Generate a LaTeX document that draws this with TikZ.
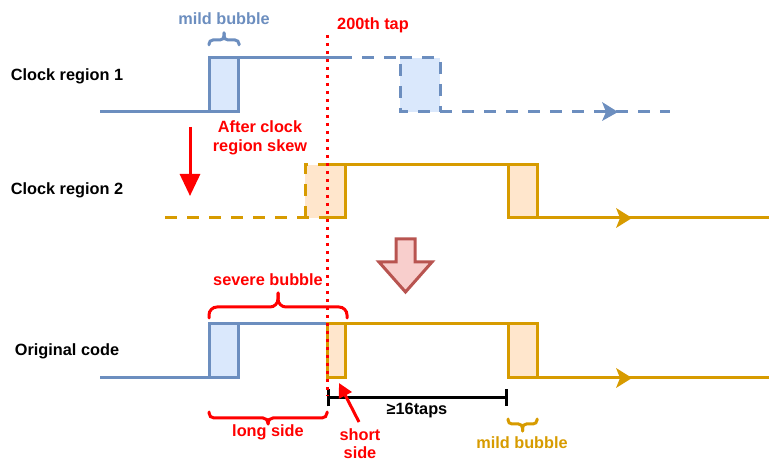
\documentclass[tikz,border=0pt]{standalone}
\usepackage{fontspec}
\setmainfont{Liberation Sans}
\usetikzlibrary{arrows.meta}
\definecolor{bblue}{HTML}{6C8EBF}
\definecolor{lblue}{HTML}{DAE8FC}
\definecolor{borange}{HTML}{D79B00}
\definecolor{lorange}{HTML}{FFE6CC}
\definecolor{pinkf}{HTML}{F8CECC}
\definecolor{pinkd}{HTML}{B85450}
\definecolor{myred}{HTML}{FF0000}
\tikzset{
  lbl/.style={font=\fontsize{16.3}{19}\selectfont\bfseries, inner sep=0pt, align=center},
  wave/.style={line width=3pt, line join=miter},
  dashwave/.style={wave, dash pattern=on 12pt off 10pt},
  brc/.style={line width=3pt, line cap=round},
}
% curly brace: x1, x2, y of ends, y of flat part, y of tip, radius
\newcommand\crbrace[7]{%
  \draw[brc, #7, rounded corners=#6pt] (#1,#3) -- (#1,#4) -- ({(#1+#2)/2},#4) -- ({(#1+#2)/2},#5);
  \draw[brc, #7, rounded corners=#6pt] (#2,#3) -- (#2,#4) -- ({(#1+#2)/2},#4) -- ({(#1+#2)/2},#5);
}
\begin{document}
\begin{tikzpicture}[x=1pt,y=-1pt]
\useasboundingbox (0,0) rectangle (769,462);

% labels
\node[lbl] (cr1) at (67,76) {Clock region 1};
\node[lbl] (cr2) at (67,190) {Clock region 2};
\node[lbl] (orig) at (67,351) {Original code};
\node[lbl, text=bblue] (mild1) at (224,19) {mild bubble};
\node[lbl, text=myred] (tap) at (373,25) {200th tap};
\node[lbl, text=myred] (skew) at (260,138) {After clock\\region skew};
\node[lbl, text=myred] (severe) at (268,280) {severe bubble};
\node[lbl, text=myred] (long) at (268,432) {long side};
\node[lbl, text=myred, font=\fontsize{16.3}{18}\selectfont\bfseries] (short) at (360,444) {short\\side};
\node[lbl] (taps) at (417,411) {≥16taps};
\node[lbl, text=borange] (mild2) at (522,443) {mild bubble};

% ---- Clock region 1 (blue)
\fill[lblue] (209,58) rectangle (238,112);
\fill[lblue] (400,58) rectangle (440,112);
\draw[wave, bblue] (100,112) -- (209,112) -- (209,58) -- (340,58);
\draw[wave, bblue] (238,58) -- (238,112) -- (209,112);
\draw[dashwave, bblue] (340,58) -- (400,58) -- (400,112) -- (670,112);
\draw[dashwave, bblue] (400,58) -- (440,58) -- (440,112);
\fill[bblue] (618,112) -- (602,102) -- (606,112) -- (602,121) -- cycle;
\crbrace{209}{239}{45}{40}{33}{4}{bblue}

% ---- Clock region 2 (orange)
\fill[lorange] (305,165) rectangle (345,218);
\fill[lorange] (508,165) rectangle (537,218);
\draw[dashwave, borange] (165,218) -- (327,218);
\draw[dashwave, borange] (305,218) -- (305,165) -- (327,165);
\draw[wave, borange] (327,218) -- (345,218) -- (345,165);
\draw[wave, borange] (327,165) -- (537,165) -- (537,218);
\draw[wave, borange] (508,165) -- (508,218) -- (769,218);
\fill[borange] (632,218) -- (616,208) -- (620,218) -- (616,228) -- cycle;

% ---- skew arrow
\coordinate (skA) at (190,127);
\coordinate (skB) at (190,196);
\draw[line width=3pt, myred, -{Triangle[length=22pt,width=20pt]}] (skA) -- (skB);

% ---- big pink arrow
\draw[line width=3pt, pinkd, fill=pinkf, line join=miter]
  (396,239) -- (415,239) -- (415,262) -- (432,262) -- (405.5,292) -- (379,262) -- (396,262) -- cycle;

% ---- Original code
\fill[lblue] (209,324) rectangle (238,378);
\fill[lorange] (327,324) rectangle (345,378);
\fill[lorange] (508,324) rectangle (537,378);
\draw[wave, bblue] (100,378) -- (209,378) -- (209,324) -- (327,324);
\draw[wave, bblue] (238,324) -- (238,378) -- (209,378);
\draw[wave, borange] (327,324) rectangle (345,378);
\draw[wave, borange] (345,324) -- (537,324) -- (537,378);
\draw[wave, borange] (508,324) -- (508,378) -- (769,378);
\fill[borange] (632,378) -- (616,368) -- (620,378) -- (616,388) -- cycle;

\crbrace{209}{347}{318}{307}{293}{8}{myred}
\crbrace{209}{327}{412}{418}{424}{5}{myred}
\crbrace{508}{537}{419}{424}{431}{4}{borange}

% ---- ≥16taps measure
\coordinate (mA) at (327,398);
\coordinate (mB) at (508,398);
\draw[line width=3pt, {Bar[width=17pt]}-{Bar[width=17pt]}] (mA) -- (mB);

% ---- short side arrow
\coordinate (shT) at (339,383);
\coordinate (shS) at (359,422);
\draw[line width=3pt, myred, -{Triangle[length=14pt,width=14pt]}] (shS) -- (shT);

% ---- 200th tap dotted line
\coordinate (tapTop) at (327,35);
\coordinate (tapBot) at (327,396);
\draw[myred, line width=3pt, dash pattern=on 3pt off 5pt] (tapTop) -- (tapBot);
\end{tikzpicture}
\end{document}
